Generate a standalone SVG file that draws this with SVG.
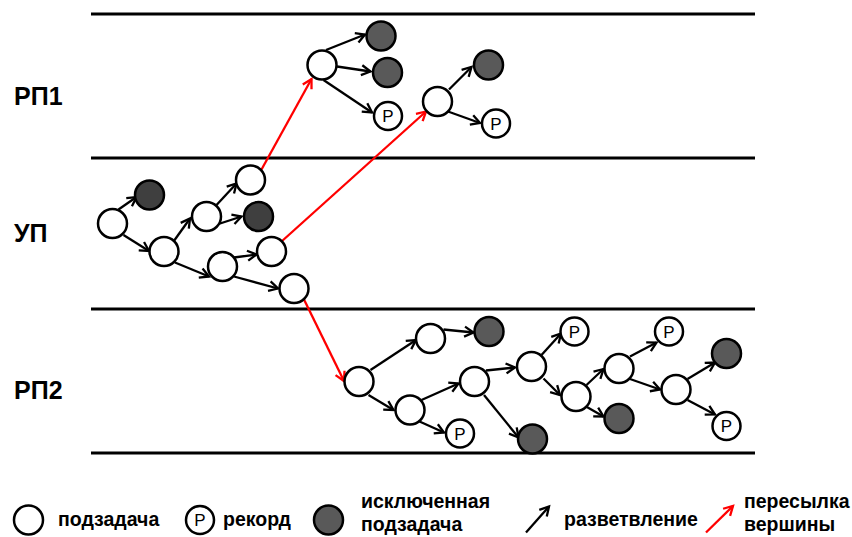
<svg xmlns="http://www.w3.org/2000/svg" width="852" height="537" viewBox="0 0 852 537">
<defs>
<style>
.band{stroke:#000;stroke-width:3.2}
.n{fill:#fff;stroke:#000;stroke-width:2.5}
.d{fill:#595959;stroke:#000;stroke-width:2.5}
.du{fill:#3f3f3f;stroke:#000;stroke-width:2.5}
.e{stroke:#000;stroke-width:2.3;fill:none;marker-end:url(#ab)}
.r{stroke:#f00;stroke-width:2.3;fill:none;marker-end:url(#ar)}
.p{font-family:"Liberation Sans",Arial,sans-serif;font-size:17px;text-anchor:middle;fill:#000}
.lab{font-family:"Liberation Sans",Arial,sans-serif;font-weight:bold;font-size:25px;fill:#000}
.lg{font-family:"Liberation Sans",Arial,sans-serif;font-weight:bold;font-size:19.5px;fill:#000}
</style>
<marker id="ab" viewBox="-12 -12 24 24" refX="0" refY="0" markerWidth="24" markerHeight="24" markerUnits="userSpaceOnUse" orient="auto">
<path d="M-9,-5 L0,0 L-9,5" fill="none" stroke="#000" stroke-width="2.3"/>
</marker>
<marker id="ar" viewBox="-12 -12 24 24" refX="0" refY="0" markerWidth="24" markerHeight="24" markerUnits="userSpaceOnUse" orient="auto">
<path d="M-9,-5 L0,0 L-9,5" fill="none" stroke="#f00" stroke-width="2.3"/>
</marker>
</defs>
<rect width="852" height="537" fill="#fff"/>
<g id="bands">
<line class="band" x1="91" y1="14" x2="755" y2="14"/>
<line class="band" x1="91" y1="158" x2="755" y2="158"/>
<line class="band" x1="91" y1="309" x2="755" y2="309"/>
<line class="band" x1="91" y1="453" x2="755" y2="453"/>
</g>
<g id="labels">
<text class="lab" x="14" y="105">РП1</text>
<text class="lab" x="14" y="242">УП</text>
<text class="lab" x="14" y="399">РП2</text>
</g>
<g id="connectors">
<line class="e" x1="326" y1="50" x2="365" y2="34.5"/>
<line class="e" x1="337" y1="66.5" x2="370.5" y2="71.5"/>
<line class="e" x1="323.5" y1="80" x2="372" y2="112.5"/>
<line class="e" x1="449" y1="89.5" x2="471.5" y2="67"/>
<line class="e" x1="448" y1="111.5" x2="480" y2="123"/>
<line class="e" x1="118.5" y1="209.5" x2="136.5" y2="197"/>
<line class="e" x1="123.5" y1="235" x2="149" y2="251"/>
<line class="e" x1="173.5" y1="241.5" x2="190" y2="218.5"/>
<line class="e" x1="216.5" y1="205" x2="236.5" y2="183.5"/>
<line class="e" x1="218.5" y1="224" x2="241.5" y2="216.5"/>
<line class="e" x1="175" y1="262.5" x2="209" y2="276.5"/>
<line class="e" x1="234" y1="257.5" x2="256.5" y2="254.5"/>
<line class="e" x1="234" y1="276.5" x2="278" y2="288.5"/>
<line class="r" x1="261.5" y1="169.5" x2="311.5" y2="79"/>
<line class="r" x1="281.5" y1="241.5" x2="426" y2="111.5"/>
<line class="r" x1="304" y1="299.5" x2="344" y2="381"/>
<line class="e" x1="370.5" y1="370" x2="416" y2="340"/>
<line class="e" x1="368.5" y1="395" x2="393.5" y2="410"/>
<line class="e" x1="443.5" y1="329.5" x2="473.5" y2="332.5"/>
<line class="e" x1="421.5" y1="400" x2="458.5" y2="383.5"/>
<line class="e" x1="419.5" y1="421.5" x2="444" y2="432.5"/>
<line class="e" x1="486" y1="370.5" x2="515" y2="367.5"/>
<line class="e" x1="484" y1="395" x2="518.5" y2="437.5"/>
<line class="e" x1="541.5" y1="355" x2="561" y2="333.5"/>
<line class="e" x1="543.5" y1="378.5" x2="560" y2="395"/>
<line class="e" x1="586.5" y1="385" x2="603.5" y2="369"/>
<line class="e" x1="586" y1="406.5" x2="603.5" y2="416.5"/>
<line class="e" x1="630" y1="356.5" x2="656.5" y2="342.5"/>
<line class="e" x1="630" y1="379" x2="660" y2="389.5"/>
<line class="e" x1="687.5" y1="379" x2="715" y2="362.5"/>
<line class="e" x1="687.5" y1="400" x2="715" y2="414.5"/>
</g>
<g id="rp1-a"><circle class="n" cx="322" cy="65" r="14.5"/></g>
<g id="rp1-a-x1"><circle class="d" cx="381" cy="36" r="14.5"/></g>
<g id="rp1-a-x2"><circle class="d" cx="387.5" cy="72.5" r="14.5"/></g>
<g id="rp1-a-p"><circle class="n" cx="388" cy="116" r="14"/><text class="p" x="388" y="122">Р</text></g>
<g id="rp1-b"><circle class="n" cx="437.5" cy="101.5" r="14.5"/></g>
<g id="rp1-b-x"><circle class="d" cx="488.5" cy="65" r="14.5"/></g>
<g id="rp1-b-p"><circle class="n" cx="496" cy="123.5" r="14"/><text class="p" x="496" y="129.5">Р</text></g>
<g id="up-1"><circle class="n" cx="112.5" cy="223.5" r="14.5"/></g>
<g id="up-x1"><circle class="du" cx="149.5" cy="195" r="14.5"/></g>
<g id="up-2"><circle class="n" cx="164" cy="251.5" r="14.5"/></g>
<g id="up-3"><circle class="n" cx="206.5" cy="216.5" r="14.5"/></g>
<g id="up-4"><circle class="n" cx="250.5" cy="180" r="14.5"/></g>
<g id="up-x2"><circle class="du" cx="258.5" cy="216.5" r="14.5"/></g>
<g id="up-5"><circle class="n" cx="222.5" cy="266.5" r="14.5"/></g>
<g id="up-6"><circle class="n" cx="271.5" cy="251.5" r="14.5"/></g>
<g id="up-7"><circle class="n" cx="294" cy="288.5" r="14.5"/></g>
<g id="rp2-1"><circle class="n" cx="359" cy="381.5" r="14.5"/></g>
<g id="rp2-2"><circle class="n" cx="430.5" cy="338.5" r="14.5"/></g>
<g id="rp2-x1"><circle class="d" cx="489" cy="331.5" r="14.5"/></g>
<g id="rp2-3"><circle class="n" cx="410" cy="410" r="14.5"/></g>
<g id="rp2-p1"><circle class="n" cx="460" cy="433.5" r="14"/><text class="p" x="460" y="439.5">Р</text></g>
<g id="rp2-4"><circle class="n" cx="474.5" cy="381.5" r="14.5"/></g>
<g id="rp2-x2"><circle class="d" cx="532.5" cy="439" r="14.5"/></g>
<g id="rp2-5"><circle class="n" cx="531.5" cy="366.5" r="14.5"/></g>
<g id="rp2-p2"><circle class="n" cx="574.5" cy="331.5" r="14"/><text class="p" x="574.5" y="337.5">Р</text></g>
<g id="rp2-6"><circle class="n" cx="576" cy="396.5" r="14.5"/></g>
<g id="rp2-x3"><circle class="d" cx="619" cy="418.5" r="14.5"/></g>
<g id="rp2-7"><circle class="n" cx="619" cy="368.5" r="14.5"/></g>
<g id="rp2-p3"><circle class="n" cx="669" cy="331.5" r="14"/><text class="p" x="669" y="337.5">Р</text></g>
<g id="rp2-8"><circle class="n" cx="676" cy="389.5" r="14.5"/></g>
<g id="rp2-x4"><circle class="d" cx="726.5" cy="353.5" r="14.5"/></g>
<g id="rp2-p4"><circle class="n" cx="726.5" cy="426" r="14"/><text class="p" x="726.5" y="432">Р</text></g>
<g id="legend">
<circle class="n" cx="28.5" cy="520" r="14.5"/>
<text class="lg" x="58" y="526">подзадача</text>
<circle class="n" cx="200" cy="520" r="14"/>
<text class="p" x="200" y="526">Р</text>
<text class="lg" x="223" y="526">рекорд</text>
<circle class="d" cx="328.5" cy="520" r="14.5"/>
<text class="lg" x="361" y="508">исключенная</text>
<text class="lg" x="361" y="531">подзадача</text>
<line class="e" x1="526" y1="532.5" x2="549" y2="506.5"/>
<text class="lg" x="564" y="526">разветвление</text>
<line class="r" x1="706" y1="532.5" x2="733" y2="506"/>
<text class="lg" x="744" y="508">пересылка</text>
<text class="lg" x="744" y="531">вершины</text>
</g>
</svg>
